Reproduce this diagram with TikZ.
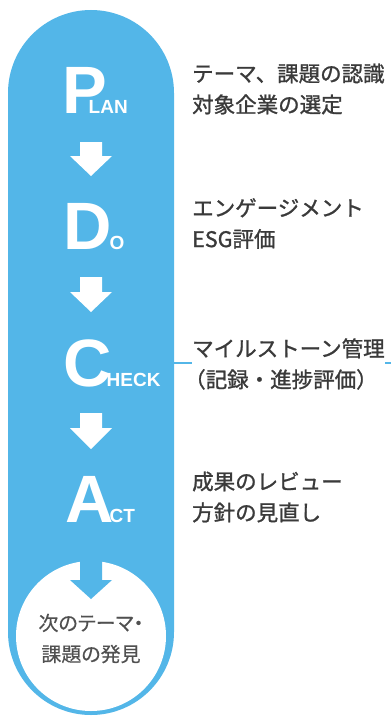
\documentclass[tikz,border=0pt]{standalone}
\usepackage{fontspec}
\setmainfont{Liberation Sans}
\newfontfamily\jp{Noto Sans CJK JP}[FakeBold=1.2]
\newfontfamily\jpc{Noto Sans CJK JP}[FakeBold=0.3,RawFeature=+palt]
\definecolor{pdcablue}{RGB}{83,182,232}
\definecolor{notegray}{RGB}{58,58,58}
\definecolor{circgray}{RGB}{80,80,80}
\newcommand{\pdcaarrow}[4]{\fill[#1] (80,#2) -- (102,#2) -- (102,#3) -- (112,#3) -- (91,#4) -- (70,#3) -- (80,#3) -- cycle;}
\newcommand{\pdcabig}[1]{{\fontsize{67}{67}\selectfont #1}}
\newcommand{\pdcasmall}[1]{{\fontsize{19}{19}\selectfont #1}}
\begin{document}
\begin{tikzpicture}[x=1pt,y=-1pt,
  pdca/.style={font=\bfseries, text=white, inner sep=0pt, anchor=base west},
  note/.style={font=\jp\fontsize{21.5}{31}\selectfont, text=notegray, align=left, inner sep=0pt, anchor=west},
  conn/.style={draw=pdcablue, line width=2pt}]
\useasboundingbox (0,0) rectangle (391,717);
% blue band
\fill[pdcablue, rounded corners=83pt] (8,10) rectangle (174,715);
% white circle
\fill[white] (91,636) circle[radius=75pt];
% arrows
\pdcaarrow{white}{142}{156}{176}
\pdcaarrow{white}{277}{292}{312}
\pdcaarrow{white}{413}{428}{449}
\pdcaarrow{pdcablue}{550}{580}{599}
% letters
\node[pdca] (plan) at (62.5,113) {\pdcabig{P}\kern-18.7pt\pdcasmall{LAN}};
\node[pdca] (do) at (63.5,249) {\pdcabig{D}\kern-2.4pt\pdcasmall{O}};
\node[pdca] (check) at (63,386) {\pdcabig{C}\kern-4.9pt\pdcasmall{HECK}};
\node[pdca] (act) at (65.5,522) {\pdcabig{A}\kern-4.4pt\pdcasmall{CT}};
% connector
\coordinate (cedge) at (174,363);
\coordinate (redge) at (391,363);
\draw[conn] (cedge) -- (redge);
% notes
\node[note] (n1) at (192,89) {テーマ、課題の認識\\対象企業の選定};
\node[note] (n2) at (192,223.5) {エンゲージメント\\ESG評価};
\node[note, fill=white] (n3) at (192,364) {マイルストーン管理\\\hspace*{-8pt}（記録・進捗評価）};
\node[note] (n4) at (192,497) {成果のレビュー\\方針の見直し};
% circle text
\node[font=\jpc\fontsize{20}{31}\selectfont, text=circgray, align=center, inner sep=0pt] (next) at (91,638.5) {次のテーマ・\\課題の発見};
\end{tikzpicture}
\end{document}
